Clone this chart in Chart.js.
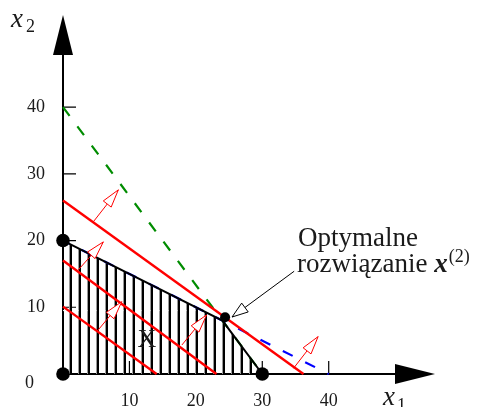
<!DOCTYPE html>
<html><head><meta charset="utf-8">
<script src="https://cdn.jsdelivr.net/npm/chart.js@4/dist/chart.umd.min.js"></script>
<style>html,body{margin:0;padding:0;background:#fff;overflow:hidden}canvas{display:block}</style>
</head><body>
<canvas id="c" width="480" height="407"></canvas>
<script>
// ---- data ----
const xTickLabels = [10, 20, 30, 40];
const yTickLabels = [10, 20, 30, 40];
const feasibleTop = [[0, 20], [24, 8], [30, 0]];
const constraintGreen = [[0, 40], [30, 0]];
const constraintBlue = [[0, 20], [40, 0]];
const levelHigh = [[0, 26], [36.2, 0]];
const levelMid = [[0, 17], [23.1, 0]];
const levelLow = [[0, 10.1], [14.1, 0]];
const gradientArrows = [
  [[4.56, 22.8], [8.33, 27.6]],
  [[2.3, 15.6], [6.07, 19.8]],
  [[5.08, 6.34], [8.84, 10.83]],
  [[17.9, 4.35], [21.6, 8.84]],
  [[34.7, 0.85], [38.4, 5.6]]
];
const helperLine = [[0, 9.5], [22.5, 9.5]];
const vertices = [[0, 0], [0, 20], [30, 0]];
const optimum = [[24.4, 8.5]];
const pointerArrow = [[34.8, 15.4], [25.45, 8.54]];

const SERIF = "'Liberation Serif', 'DejaVu Serif', serif";
const P = a => a.map(([x, y]) => ({x, y}));

const canvas = document.getElementById('c');
const ctx = canvas.getContext('2d');

// vertical hatching pattern
const pc = document.createElement('canvas');
pc.width = 9; pc.height = 4;
const pctx = pc.getContext('2d');
pctx.fillStyle = '#999'; pctx.fillRect(3, 0, 1, 4);
pctx.fillStyle = '#000'; pctx.fillRect(4, 0, 2, 4);
const hatch = ctx.createPattern(pc, 'repeat');
hatch.setTransform(new DOMMatrix().translate(3, 0));

const line = (data, color, width, extra) => Object.assign({
  data: P(data), showLine: true, borderColor: color, borderWidth: width,
  pointRadius: 0, fill: false, clip: false
}, extra || {});

const datasets = [
  line(feasibleTop, 'rgba(0,0,0,0)', 1, {fill: 'origin', backgroundColor: hatch, order: 20}),
  line(helperLine, '#ffffff', 1, {borderDash: [2, 2.5], order: 19}),
  line(constraintGreen, '#008c00', 2.2, {borderDash: [11, 13], order: 18}),
  line(constraintBlue, '#0000ff', 2.2, {borderDash: [11, 14], borderDashOffset: 4, order: 18}),
  line(feasibleTop, '#000000', 2, {order: 15}),
  line(levelHigh, '#ff0000', 2.4, {order: 12}),
  line(levelMid, '#ff0000', 2.4, {order: 12}),
  line(levelLow, '#ff0000', 2.4, {order: 12})
];
gradientArrows.forEach(a => datasets.push(line(a, '#ff0000', 1, {order: 8, arrowHead: {len: 18, half: 5, stroke: '#ff0000'}})));
datasets.push(line(pointerArrow, '#000000', 1, {order: 8, arrowHead: {len: 16, half: 5.5, stroke: '#000000'}}));
datasets.push({data: P(vertices), showLine: false, pointRadius: 6.8, pointBackgroundColor: '#000', pointBorderWidth: 0, clip: false, order: 2});
datasets.push({data: P(optimum), showLine: false, pointRadius: 5, pointBackgroundColor: '#000', pointBorderWidth: 0, clip: false, order: 2});

function arrowHeadAt(c, tip, from, spec) {
  const dx = tip.x - from.x, dy = tip.y - from.y;
  const L = Math.hypot(dx, dy), ux = dx / L, uy = dy / L;
  const bx = tip.x - ux * spec.len, by = tip.y - uy * spec.len;
  c.beginPath();
  c.moveTo(tip.x, tip.y);
  c.lineTo(bx - uy * spec.half, by + ux * spec.half);
  c.lineTo(bx + uy * spec.half, by - ux * spec.half);
  c.closePath();
  c.fillStyle = '#fff'; c.fill();
  c.lineWidth = 1; c.strokeStyle = spec.stroke; c.stroke();
}

const axesPlugin = {
  id: 'axes',
  beforeDatasetsDraw(chart) {
    const c = chart.ctx, xs = chart.scales.x, ys = chart.scales.y;
    const x0 = xs.getPixelForValue(0), y0 = ys.getPixelForValue(0);
    const xt = xs.getPixelForValue(xs.max), yt = ys.getPixelForValue(ys.max);
    c.save();
    c.strokeStyle = '#000'; c.fillStyle = '#000';
    c.lineWidth = 2;
    c.beginPath();
    c.moveTo(x0, y0); c.lineTo(xt - 38, y0);
    c.moveTo(x0, y0); c.lineTo(x0, yt + 38);
    c.stroke();
    // arrow heads
    c.beginPath(); c.moveTo(xt, y0); c.lineTo(xt - 40, y0 - 10); c.lineTo(xt - 40, y0 + 10); c.closePath(); c.fill();
    c.beginPath(); c.moveTo(x0, yt); c.lineTo(x0 - 10, yt + 40); c.lineTo(x0 + 10, yt + 40); c.closePath(); c.fill();
    // inner tick marks
    c.lineWidth = 1.2;
    c.beginPath();
    xTickLabels.forEach(v => { const p = xs.getPixelForValue(v); c.moveTo(p, y0); c.lineTo(p, y0 - 13); });
    yTickLabels.forEach(v => { const p = ys.getPixelForValue(v); c.moveTo(x0, p); c.lineTo(x0 + 13, p); });
    c.stroke();
    c.restore();
  },
  afterDatasetsDraw(chart) {
    const c = chart.ctx;
    c.save();
    chart.data.datasets.forEach((ds, i) => {
      if (!ds.arrowHead) return;
      const m = chart.getDatasetMeta(i).data;
      arrowHeadAt(c, m[1], m[0], ds.arrowHead);
    });
    c.restore();
  },
  afterDraw(chart) {
    const c = chart.ctx, xs = chart.scales.x, ys = chart.scales.y;
    const x0 = xs.getPixelForValue(0), y0 = ys.getPixelForValue(0);
    c.save();
    c.fillStyle = '#1a1a1a';
    c.textBaseline = 'alphabetic';
    // origin label
    c.font = '18px ' + SERIF; c.textAlign = 'right';
    c.fillText('0', x0 - 29, y0 + 14);
    c.textAlign = 'left';
    // axis names
    c.font = 'italic 27px ' + SERIF; c.fillText('x', 11, 27);
    c.font = '18px ' + SERIF; c.fillText('2', 26, 32);
    c.font = 'italic 27px ' + SERIF; c.fillText('x', 383, 405);
    c.font = '18px ' + SERIF; c.fillText('1', 397, 411);
    // region label
    c.font = '26px ' + SERIF; c.textAlign = 'center';
    c.fillText('X', 147, 347);
    // annotation
    c.textAlign = 'left';
    c.font = '27px ' + SERIF;
    c.fillText('Optymalne', 298, 246);
    const t = 'rozwiązanie ';
    c.fillText(t, 297, 272);
    let px = 297 + c.measureText(t).width;
    c.font = 'italic bold 27px ' + SERIF;
    c.fillText('x', px, 272);
    px += c.measureText('x').width + 1;
    c.font = '18px ' + SERIF;
    c.fillText('(2)', px, 262);
    c.restore();
  }
};

new Chart(ctx, {
  type: 'scatter',
  data: {datasets},
  options: {
    responsive: false,
    animation: false,
    devicePixelRatio: 1,
    layout: {padding: {top: 15, right: 45, left: 0, bottom: 0}},
    plugins: {legend: {display: false}, tooltip: {enabled: false}},
    scales: {
      x: {
        type: 'linear', min: 0, max: 56,
        grid: {display: false, drawTicks: false},
        border: {display: false},
        afterBuildTicks: s => { s.ticks = xTickLabels.map(v => ({value: v})); },
        afterFit: s => { s.height = 33; s.paddingLeft = 0; s.paddingRight = 0; },
        ticks: {padding: 16, color: '#1a1a1a', font: {family: SERIF, size: 18}, maxRotation: 0, autoSkip: false}
      },
      y: {
        type: 'linear', min: 0, max: 53.8,
        grid: {display: false, drawTicks: false},
        border: {display: false},
        afterBuildTicks: s => { s.ticks = yTickLabels.map(v => ({value: v})); },
        afterFit: s => { s.width = 63; s.paddingTop = 0; s.paddingBottom = 0; },
        ticks: {padding: 18, color: '#1a1a1a', font: {family: SERIF, size: 18}, autoSkip: false}
      }
    }
  },
  plugins: [axesPlugin]
});
</script>
</body></html>
